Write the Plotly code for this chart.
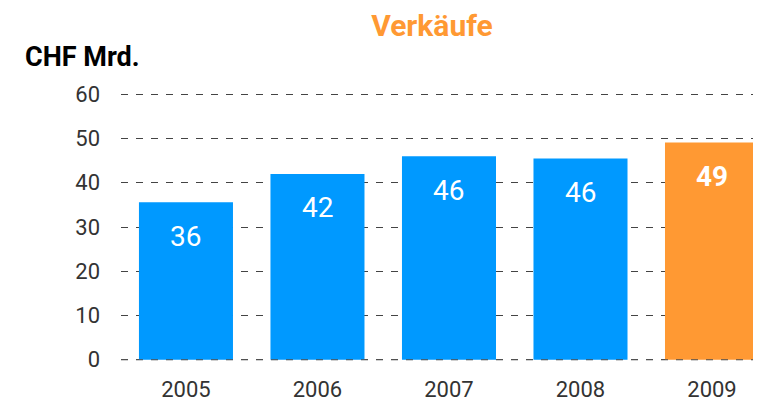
import plotly.graph_objects as go

years = ["2005", "2006", "2007", "2008", "2009"]
sales = [35.6, 42.0, 46.0, 45.5, 49.1]
labels = ["36", "42", "46", "46", "49"]
bar_colors = ["#0099FF", "#0099FF", "#0099FF", "#0099FF", "#FF9933"]
label_bold = [False, False, False, False, True]
y_ticks = [0, 10, 20, 30, 40, 50, 60]

# page body has an 8px margin; figure is sized/positioned to compensate
W, H = 753, 395

fig = go.Figure()
fig.add_trace(go.Bar(
    x=years, y=sales, marker=dict(color=bar_colors, line=dict(width=0)),
    width=0.715, hoverinfo="skip",
))

for i, (v, t, b) in enumerate(zip(sales, labels, label_bold)):
    fig.add_annotation(
        x=i, y=v, text=f"<b>{t}</b>" if b else t, showarrow=False,
        yanchor="middle", yshift=-34,
        font=dict(family="Roboto", size=28, color="white"),
    )

fig.add_annotation(
    xref="paper", yref="paper", x=-0.1534, y=1.13, xanchor="left", yanchor="middle",
    text="<b>CHF Mrd.</b>", showarrow=False,
    font=dict(family="Roboto", size=27, color="#000000"),
)
fig.add_shape(type="line", xref="paper", yref="y", x0=0, x1=1, y0=0, y1=0,
              line=dict(color="#555555", width=1, dash="7px,8px"), layer="above")

fig.update_layout(
    width=W, height=H,
    margin=dict(l=113, r=1, t=84, b=41, autoexpand=False),
    paper_bgcolor="white", plot_bgcolor="white",
    showlegend=False,
    title=dict(text="<b>Verkäufe</b>", x=424/W, xanchor="center",
               y=1 - 17/H, yanchor="middle", yref="container",
               font=dict(family="Roboto", size=30, color="#FF9933")),
    xaxis=dict(
        type="category", range=[-0.494, 4.365], showgrid=False, zeroline=False,
        showline=False, ticks="", ticklabelstandoff=12, automargin=False,
        tickfont=dict(family="Roboto", size=22, color="#333333"),
    ),
    yaxis=dict(
        range=[-0.5, 60.5], tickvals=y_ticks, showgrid=True,
        gridcolor="#444444", gridwidth=1, griddash="7px,8px",
        zeroline=False, showline=False, ticks="", ticklabelstandoff=20,
        automargin=False,
        tickfont=dict(family="Roboto", size=22, color="#333333"),
    ),
)

fig.write_html("out.html")
